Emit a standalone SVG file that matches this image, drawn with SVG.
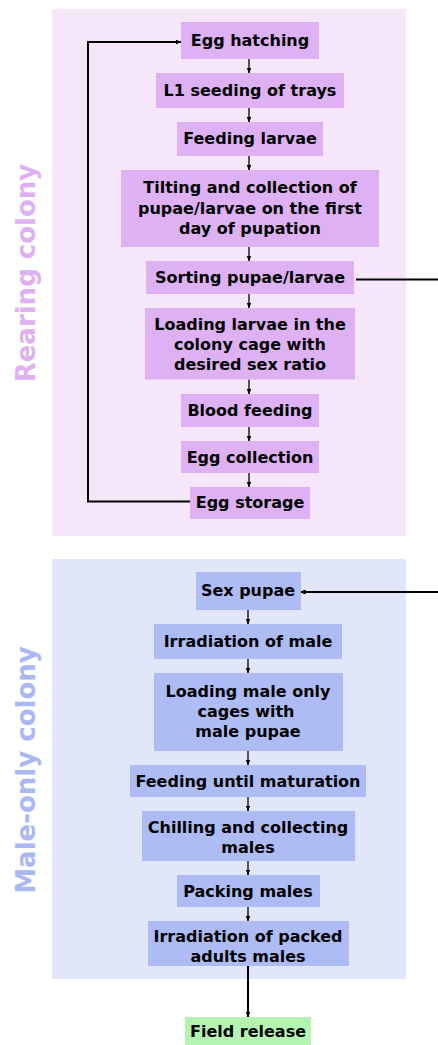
<svg xmlns="http://www.w3.org/2000/svg" width="438" height="1045" viewBox="0 0 438 1045">
<defs>
<marker id="ah" markerUnits="userSpaceOnUse" markerWidth="6" markerHeight="6" refX="5.5" refY="3" orient="auto">
<path d="M0,0.6 L6,3 L0,5.4 z" fill="#000"/>
</marker>
<style>
.t{font-family:"DejaVu Sans","Verdana",sans-serif;font-weight:bold;font-size:16px;fill:#000;text-anchor:middle}
.lab{font-family:"DejaVu Sans","Verdana",sans-serif;font-weight:bold;font-size:26px;text-anchor:middle}
.rb{fill:#ddb1f4}
.mb{fill:#aebcf5}
.c{fill:none;stroke:#000;stroke-width:1.3;marker-end:url(#ah)}
.c2{fill:none;stroke:#000;stroke-width:2;marker-end:url(#ah)}
</style>
</defs>
<rect id="rearing-panel" x="52" y="9" width="354" height="527" fill="#f5e6fa"/>
<rect id="male-panel" x="52" y="559" width="354" height="420" fill="#e1e6fb"/>
<text class="lab" fill="#deb2f2" transform="translate(35,273) rotate(-90)">Rearing colony</text>
<text class="lab" fill="#aab8f4" transform="translate(35,770) rotate(-90)">Male-only colony</text>
<g id="connectors">
<path class="c" d="M249,59 V73"/>
<path class="c" d="M249,108 V122"/>
<path class="c" d="M249,156 V170"/>
<path class="c" d="M249,247 V261"/>
<path class="c" d="M249,294 V308"/>
<path class="c" d="M249,379.5 V394"/>
<path class="c" d="M249,427 V441"/>
<path class="c" d="M249,473 V487"/>
<path class="c2" d="M190,501.5 H88 V42 H181"/>
<path class="c2" d="M356,279.5 H441 V592 H300"/>
<path class="c" d="M248,610 V624"/>
<path class="c" d="M248,659 V673"/>
<path class="c" d="M248,751 V765"/>
<path class="c" d="M248,797 V811"/>
<path class="c" d="M248,861 V875"/>
<path class="c" d="M248,907 V921"/>
<path class="c2" d="M248,966 V1017"/>
</g>
<g id="egg-hatching"><rect class="rb" x="181" y="22" width="138" height="37"/><text class="t" x="250" y="46">Egg hatching</text></g>
<g id="l1-seeding"><rect class="rb" x="156" y="73" width="188" height="35"/><text class="t" x="250" y="96">L1 seeding of trays</text></g>
<g id="feeding-larvae"><rect class="rb" x="177" y="122" width="146" height="34"/><text class="t" x="250" y="144">Feeding larvae</text></g>
<g id="tilting"><rect class="rb" x="121" y="170" width="258" height="77"/><text class="t" x="250" y="193">Tilting and collection of</text><text class="t" x="250" y="213.5">pupae/larvae on the first</text><text class="t" x="250" y="234">day of pupation</text></g>
<g id="sorting"><rect class="rb" x="146" y="261" width="208" height="33"/><text class="t" x="250" y="283">Sorting pupae/larvae</text></g>
<g id="loading-larvae"><rect class="rb" x="145" y="308" width="210" height="71.5"/><text class="t" x="250" y="330">Loading larvae in the</text><text class="t" x="250" y="350">colony cage with</text><text class="t" x="250" y="370">desired sex ratio</text></g>
<g id="blood-feeding"><rect class="rb" x="181" y="394" width="138" height="33"/><text class="t" x="250" y="416">Blood feeding</text></g>
<g id="egg-collection"><rect class="rb" x="181" y="441" width="138" height="32"/><text class="t" x="250" y="462.5">Egg collection</text></g>
<g id="egg-storage"><rect class="rb" x="190" y="487" width="120" height="32"/><text class="t" x="250" y="508">Egg storage</text></g>
<g id="sex-pupae"><rect class="mb" x="196" y="572" width="105" height="38"/><text class="t" x="248" y="596">Sex pupae</text></g>
<g id="irradiation-male"><rect class="mb" x="154" y="624" width="188" height="35"/><text class="t" x="248" y="647">Irradiation of male</text></g>
<g id="loading-male"><rect class="mb" x="154" y="673" width="189" height="78"/><text class="t" x="248" y="697">Loading male only</text><text class="t" x="246" y="717">cages with</text><text class="t" x="248" y="737">male pupae</text></g>
<g id="feeding-maturation"><rect class="mb" x="130" y="765" width="236" height="32"/><text class="t" x="248" y="786.5">Feeding until maturation</text></g>
<g id="chilling"><rect class="mb" x="142" y="811" width="213" height="50"/><text class="t" x="248" y="833">Chilling and collecting</text><text class="t" x="248" y="853">males</text></g>
<g id="packing"><rect class="mb" x="177" y="875" width="143" height="32"/><text class="t" x="248" y="896.5">Packing males</text></g>
<g id="irradiation-packed"><rect class="mb" x="148" y="921" width="201" height="45"/><text class="t" x="248" y="942">Irradiation of packed</text><text class="t" x="248" y="961.5">adults males</text></g>
<g id="field-release"><rect x="185" y="1017" width="126" height="30" fill="#b3f5b0"/><text class="t" x="248" y="1037">Field release</text></g>
</svg>
